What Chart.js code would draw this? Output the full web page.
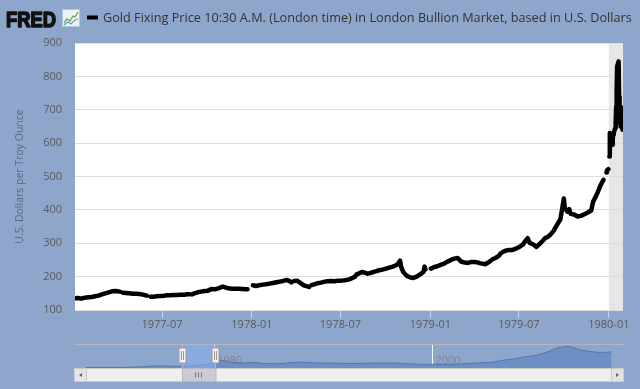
<!DOCTYPE html>
<html lang="en">
<head>
<meta charset="UTF-8">
<title>Gold Fixing Price 10:30 A.M. (London time)</title>
<script src="https://cdn.jsdelivr.net/npm/chart.js"></script>
<style>
  html, body { margin: 0; padding: 0; background: #8fa6cc; }
  #wrap { position: relative; width: 640px; height: 389px; overflow: hidden; }
  #mainChart { position: absolute; left: 0; top: 0; }
  #navChart { position: absolute; left: 0; top: 340px; }
</style>
</head>
<body>
<div id="wrap">
  <canvas id="mainChart" width="640" height="389"></canvas>
  <canvas id="navChart" width="640" height="49"></canvas>
</div>
<script>
// Series values (USD per troy ounce), roughly weekly, null = holiday gap
const dates1977 = ['01-04','01-10','01-17','01-24','01-31','02-07','02-14','02-21','02-28','03-07','03-14','03-21','03-28','04-06','04-08','04-12','04-18','04-25','05-02','05-09','05-16','05-23','05-31','06-06','06-08','06-13','06-20','06-27','07-05','07-11','07-18','07-25','08-01','08-08','08-15','08-22','08-26','08-29','08-31','09-05','09-12','09-19','09-26','10-03','10-10','10-17','10-24','10-31','11-03','11-07','11-14','11-21','11-28','12-05','12-12','12-19','12-23','12-26'];
const values1977 = [135,136,134,137,138,139,141,143,147,150,153,156,157,155,null,152,151,150,149,149,148,146,143,null,140,140,141,142,143,144,144,145,145,146,146,147,147,null,147,150,153,155,157,158,163,162,165,169,170,168,165,164,164,164,163,162,162,null];

const dates1978 = ['01-03','01-09','01-16','01-23','01-30','02-06','02-13','02-20','02-27','03-06','03-13','03-20','03-23','03-24','03-28','04-03','04-10','04-17','04-24','04-28','05-01','05-03','05-08','05-15','05-22','05-30','06-05','06-12','06-19','06-26','07-03','07-10','07-17','07-24','07-31','08-03','08-07','08-14','08-21','08-25','08-28','08-29','09-04','09-11','09-18','09-25','10-02','10-09','10-16','10-23','10-27','10-31','11-02','11-06','11-13','11-20','11-27','12-04','12-11','12-18','12-20','12-22','12-25'];
const values1978 = [174,172,174,176,177,179,181,183,185,187,190,186,183,null,187,188,181,174,171,169,null,175,177,180,182,185,186,187,186,188,188,189,191,195,200,207,209,214,211,209,null,210,213,216,219,221,224,227,230,234,239,248,230,215,203,198,196,200,207,214,230,222,null];

const dates1979 = ['01-02','01-08','01-15','01-22','01-29','02-05','02-12','02-19','02-26','03-05','03-12','03-19','03-26','04-02','04-09','04-12','04-13','04-17','04-23','04-30','05-04','05-07','05-08','05-14','05-21','05-25','05-28','05-29','06-04','06-11','06-18','06-25','07-02','07-09','07-16','07-19','07-23','07-30','08-06','08-13','08-20','08-24','08-27','08-28','09-03','09-10','09-17','09-24','10-01','10-03','10-08','10-12','10-15','10-22','10-29','11-05','11-12','11-19','11-26','11-30','12-06','12-10','12-14','12-18','12-21','12-24','12-27','12-28','12-31'];
const values1979 = [224,228,231,235,239,245,250,254,256,245,242,241,244,244,242,240,null,239,237,243,247,null,252,256,262,270,null,274,278,280,280,284,289,296,310,315,301,297,289,299,309,316,null,318,325,337,355,372,434,406,395,402,388,386,380,382,387,392,398,425,442,455,470,482,490,null,512,518,522];

const dates1980 = ['01-01','01-02','01-03','01-04','01-07','01-08','01-09','01-10','01-11','01-14','01-15','01-16','01-17','01-18','01-21','01-22','01-23','01-24','01-25','01-28','01-29'];
const values1980 = [null,560,630,590,605,595,612,625,630,645,660,710,760,830,845,740,690,665,650,705,640];

// x axis window and labels
const xStart = '1977-01-04';
const xEnd = '1980-01-30';
const xTickLabels = ['1977-07', '1978-01', '1978-07', '1979-01', '1979-07', '1980-01'];
const recessions = [['1980-01-01', '1980-07-01']];

const seriesLabel = 'Gold Fixing Price 10:30 A.M. (London time) in London Bullion Market, based in U.S. Dollars';
const yAxisTitle = 'U.S. Dollars per Troy Ounce';

// navigator: long-run annual levels
const navYears = [1968.25, 1968.5, 1969.5, 1970.5, 1971.5, 1972.5, 1973.5, 1974.5, 1975.5, 1976.5, 1977.5, 1978.5, 1979.5, 1980.5, 1981.5, 1982.5, 1983.5, 1984.5, 1985.5, 1986.5, 1987.5, 1988.5, 1989.5, 1990.5, 1991.5, 1992.5, 1993.5, 1994.5, 1995.5, 1996.5, 1997.5, 1998.5, 1999.5, 2000.5, 2001.5, 2002.5, 2003.5, 2004.5, 2005.5, 2006.5, 2007.5, 2008.5, 2009.5, 2010.5, 2011.5, 2012.5, 2013.5, 2014.5, 2015.5, 2016.4];
const navValues = [38, 39, 41, 36, 41, 58, 97, 159, 161, 125, 148, 193, 306, 615, 460, 376, 424, 361, 317, 368, 447, 437, 381, 383, 362, 344, 360, 384, 384, 388, 331, 294, 279, 279, 271, 310, 363, 409, 444, 604, 695, 872, 972, 1225, 1572, 1669, 1411, 1266, 1160, 1250];
const navGridYears = [1980, 2000];

const DAY = 86400000;
function dayNum(s) {
  return Date.UTC(+s.slice(0, 4), +s.slice(5, 7) - 1, s.length > 7 ? +s.slice(8, 10) : 1) / DAY;
}
function toYear(d) {
  const dt = new Date(d * DAY);
  const y = dt.getUTCFullYear();
  return y + (d - Date.UTC(y, 0, 1) / DAY) / 365.25;
}

const goldPoints = [];
[[1977, dates1977, values1977], [1978, dates1978, values1978],
 [1979, dates1979, values1979], [1980, dates1980, values1980]].forEach(([yr, ds, vs]) => {
  ds.forEach((d, i) => goldPoints.push({ x: dayNum(yr + '-' + d), y: vs[i] }));
});

const font = 'Open Sans';

// plot background, recession bar and FRED header
const fredFrame = {
  id: 'fredFrame',
  beforeDraw(chart) {
    const { ctx, chartArea: a, scales: { x } } = chart;
    ctx.save();
    ctx.fillStyle = '#ffffff';
    ctx.fillRect(a.left, a.top, a.width, a.height);
    ctx.fillStyle = '#e6e6e6';
    recessions.forEach(([s, e]) => {
      const x0 = Math.max(a.left, x.getPixelForValue(dayNum(s)));
      const x1 = Math.min(a.right, x.getPixelForValue(dayNum(e)));
      if (x1 > x0) ctx.fillRect(x0, a.top, x1 - x0, a.height);
    });
    ctx.restore();
  },
  afterDraw(chart) {
    const ctx = chart.ctx;
    ctx.save();
    // logo
    ctx.fillStyle = '#111';
    ctx.strokeStyle = '#111';
    ctx.lineWidth = 1.6;
    ctx.lineJoin = 'round';
    ctx.font = 'bold 22px "Liberation Sans"';
    ctx.textBaseline = 'alphabetic';
    const w = ctx.measureText('FRED').width;
    ctx.translate(6, 26.5);
    ctx.scale(50 / w, 1);
    ctx.fillText('FRED', 0, 0);
    ctx.strokeText('FRED', 0, 0);
    ctx.restore();
    ctx.save();
    // little chart icon
    ctx.fillStyle = '#eef2f8';
    ctx.strokeStyle = '#b7c4d8';
    ctx.fillRect(62.5, 9.5, 17, 17);
    ctx.strokeRect(62.5, 9.5, 17, 17);
    ctx.strokeStyle = '#5fae3e';
    ctx.lineWidth = 1.3;
    ctx.beginPath();
    ctx.moveTo(64, 23); ctx.lineTo(67, 19); ctx.lineTo(70, 21); ctx.lineTo(73, 16); ctx.lineTo(75, 17); ctx.lineTo(78, 12);
    ctx.stroke();
    ctx.strokeStyle = '#6f9bd1';
    ctx.beginPath();
    ctx.moveTo(64, 25); ctx.lineTo(68, 22); ctx.lineTo(71, 24); ctx.lineTo(75, 20); ctx.lineTo(78, 19);
    ctx.stroke();
    // legend
    ctx.fillStyle = '#000';
    ctx.fillRect(87, 15.5, 11, 4);
    ctx.fillStyle = '#333';
    ctx.font = '12.7px "' + font + '"';
    ctx.textBaseline = 'middle';
    ctx.fillText(seriesLabel, 103, 18);
    ctx.restore();
  }
};

new Chart(document.getElementById('mainChart'), {
  type: 'line',
  data: {
    datasets: [{
      label: seriesLabel,
      data: goldPoints,
      borderColor: '#000000',
      borderWidth: 4.5,
      pointRadius: 0,
      tension: 0,
      spanGaps: false,
      borderJoinStyle: 'round',
      borderCapStyle: 'round',
      fill: false
    }]
  },
  options: {
    responsive: false,
    animation: false,
    events: [],
    layout: { padding: { left: 0, right: 17, top: 43, bottom: 0 } },
    plugins: {
      legend: { display: false },
      tooltip: { enabled: false }
    },
    scales: {
      x: {
        type: 'linear',
        min: dayNum(xStart),
        max: dayNum(xEnd),
        afterBuildTicks: s => { s.ticks = xTickLabels.map(l => ({ value: dayNum(l) })); },
        afterFit: s => { s.height = 79; },
        ticks: {
          autoSkip: false,
          maxRotation: 0,
          padding: 0,
          color: '#5a5a5a',
          font: { family: font, size: 11 },
          callback: (v, i) => xTickLabels[i]
        },
        grid: { drawOnChartArea: false, tickLength: 8, color: '#c9d5e8' },
        border: { display: false }
      },
      y: {
        min: 100,
        max: 900,
        afterFit: s => { s.width = 75; },
        ticks: { stepSize: 100, padding: 13, color: '#5a5a5a', font: { family: font, size: 11 } },
        grid: { color: '#dedede', drawTicks: false },
        border: { display: false },
        title: {
          display: true,
          text: yAxisTitle,
          color: '#5b6880',
          font: { family: font, size: 10.5 },
          padding: { top: 14, bottom: 0 }
        }
      }
    }
  },
  plugins: [fredFrame]
});

// navigator decorations: outline, selection mask, handles, scrollbar
const selStart = toYear(dayNum(xStart));
const selEnd = toYear(dayNum(xEnd));

const navDecor = {
  id: 'navDecor',
  beforeDatasetsDraw(chart) {
    const { ctx, chartArea: a, scales: { x } } = chart;
    ctx.save();
    ctx.strokeStyle = '#f4f6fa';
    ctx.lineWidth = 1;
    navGridYears.forEach(yr => {
      const px = Math.round(x.getPixelForValue(yr)) + 0.5;
      ctx.beginPath(); ctx.moveTo(px, a.top); ctx.lineTo(px, a.bottom); ctx.stroke();
    });
    ctx.restore();
  },
  afterDatasetsDraw(chart) {
    const { ctx, chartArea: a, scales: { x } } = chart;
    const x0 = x.getPixelForValue(selStart);
    const x1 = x.getPixelForValue(selEnd);
    ctx.save();
    // year labels
    ctx.fillStyle = 'rgba(125,125,125,0.8)';
    ctx.font = '11px "' + font + '"';
    ctx.textBaseline = 'middle';
    navGridYears.forEach(yr => ctx.fillText(String(yr), x.getPixelForValue(yr) + 3, a.top + 17));
    // selection mask
    ctx.fillStyle = 'rgba(135,175,238,0.6)';
    ctx.fillRect(x0, a.top, x1 - x0, a.bottom - a.top);
    // outline
    ctx.strokeStyle = '#b4b6bc';
    ctx.lineWidth = 1;
    ctx.beginPath();
    ctx.moveTo(74, a.top + 0.5); ctx.lineTo(624, a.top + 0.5);
    ctx.moveTo(Math.round(x0) + 0.5, a.top); ctx.lineTo(Math.round(x0) + 0.5, a.bottom);
    ctx.moveTo(Math.round(x1) + 0.5, a.top); ctx.lineTo(Math.round(x1) + 0.5, a.bottom);
    ctx.stroke();
    // scrollbar
    const sy = a.bottom + 0.5, sh = 13;
    ctx.fillStyle = '#eeeeee';
    ctx.strokeStyle = '#cccccc';
    ctx.fillRect(74.5, sy, 549, sh);
    ctx.strokeRect(74.5, sy, 549, sh);
    [[74.5, 1], [611.5, -1]].forEach(([bx, dir]) => {
      ctx.fillStyle = '#e4e4e4';
      ctx.fillRect(bx, sy, 12, sh);
      ctx.strokeRect(bx, sy, 12, sh);
      ctx.fillStyle = '#666';
      const cx = bx + 6, cy = sy + sh / 2;
      ctx.beginPath();
      ctx.moveTo(cx - 1.5 * dir, cy); ctx.lineTo(cx + 1.5 * dir, cy - 2); ctx.lineTo(cx + 1.5 * dir, cy + 2);
      ctx.closePath(); ctx.fill();
    });
    ctx.fillStyle = '#c9ccd2';
    ctx.strokeStyle = '#b5b8be';
    ctx.fillRect(Math.round(x0) + 0.5, sy, x1 - x0, sh);
    ctx.strokeRect(Math.round(x0) + 0.5, sy, x1 - x0, sh);
    ctx.strokeStyle = '#777';
    const mx = Math.round((x0 + x1) / 2) + 0.5;
    ctx.beginPath();
    [-3, 0, 3].forEach(d => { ctx.moveTo(mx + d, sy + 4); ctx.lineTo(mx + d, sy + sh - 4); });
    ctx.stroke();
    // handles
    [x0, x1].forEach(hx => {
      const px = Math.round(hx) + 0.5;
      ctx.fillStyle = '#f2f2f2';
      ctx.strokeStyle = '#9a9a9a';
      ctx.fillRect(px - 3.5, a.top + 4, 7, 15);
      ctx.strokeRect(px - 3.5, a.top + 4, 7, 15);
      ctx.beginPath();
      ctx.moveTo(px - 1, a.top + 7); ctx.lineTo(px - 1, a.top + 16);
      ctx.moveTo(px + 1, a.top + 7); ctx.lineTo(px + 1, a.top + 16);
      ctx.stroke();
    });
    ctx.restore();
  }
};

new Chart(document.getElementById('navChart'), {
  type: 'line',
  data: {
    datasets: [{
      data: navYears.map((yr, i) => ({ x: yr, y: navValues[i] })),
      fill: 'origin',
      backgroundColor: '#6e8fc3',
      borderColor: '#5176ad',
      borderWidth: 1,
      pointRadius: 0,
      tension: 0
    }]
  },
  options: {
    responsive: false,
    animation: false,
    events: [],
    layout: { padding: { left: 86, right: 28, top: 4, bottom: 21 } },
    plugins: { legend: { display: false }, tooltip: { enabled: false } },
    scales: {
      x: { type: 'linear', display: false, min: 1968.25, max: 2016.45 },
      y: { display: false, min: 0, max: 1850 }
    }
  },
  plugins: [navDecor]
});
</script>
</body>
</html>
